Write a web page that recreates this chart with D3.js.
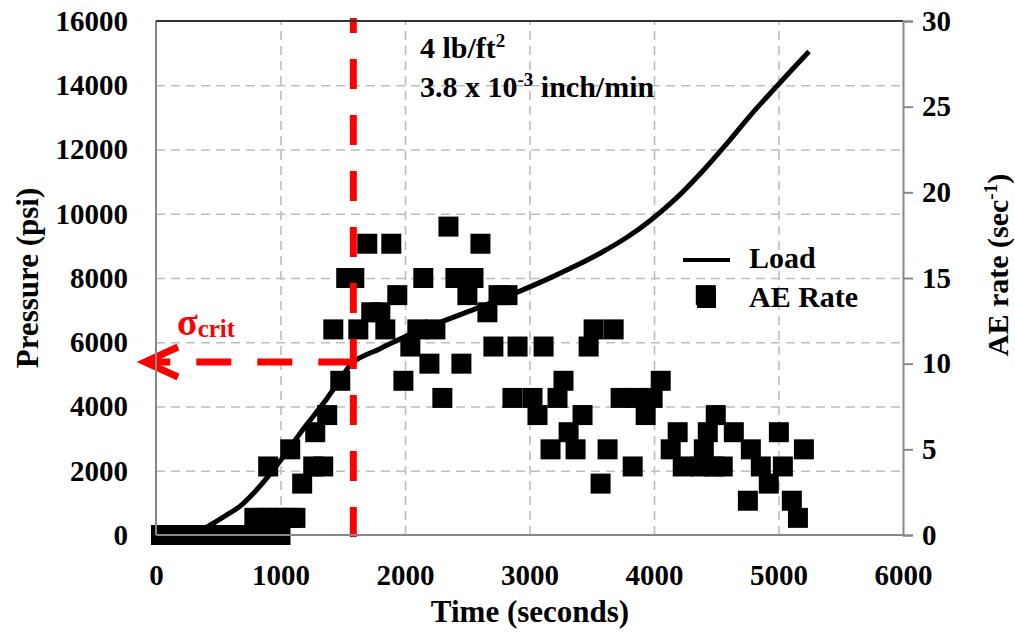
<!DOCTYPE html>
<html>
<head>
<meta charset="utf-8">
<script src="https://cdn.jsdelivr.net/npm/d3@7"></script>
<style>
  html, body { margin: 0; padding: 0; background: #fff; }
  svg text { font-family: "Liberation Serif", "Times New Roman", serif; font-weight: bold; }
</style>
</head>
<body>
<svg id="chart" width="1015" height="634"></svg>
<script>
// ---- data ----
const xTicks = [0, 1000, 2000, 3000, 4000, 5000, 6000];
const yLeftTicks = [0, 2000, 4000, 6000, 8000, 10000, 12000, 14000, 16000];
const yRightTicks = [0, 5, 10, 15, 20, 25, 30];

const loadTime = [0, 200, 330, 430, 540, 676, 800, 941, 1050, 1158, 1270, 1375, 1480, 1585, 1800, 1987, 2284, 2606, 2904, 3153, 3350, 3571, 3780, 3973, 4175, 4375, 4578, 4778, 5019, 5245];
const loadPsi  = [0, 10, 90, 300, 560, 900, 1370, 2020, 2580, 3170, 3730, 4260, 4840, 5385, 5800, 6150, 6620, 7100, 7560, 7980, 8340, 8780, 9260, 9800, 10470, 11260, 12150, 13080, 14110, 15050];

const aeTime = [40, 100, 160, 220, 280, 340, 400, 460, 520, 580, 640, 700, 760, 790, 820, 850, 880, 901, 910, 940, 970, 1000, 1030, 1078, 1090, 1120,
  1174, 1263, 1279, 1343, 1375, 1424, 1480, 1528, 1593, 1625, 1697, 1729, 1802, 1842, 1890, 1938, 1987,
  2043, 2099, 2147, 2196, 2244, 2300, 2349, 2405, 2453, 2501, 2550, 2606, 2662, 2710, 2751, 2823, 2863, 2904, 3024, 3064,
  3113, 3169, 3225, 3273, 3314, 3370, 3426, 3475, 3515, 3571, 3627, 3676, 3732, 3829, 3861, 3933, 3989, 4054,
  4134, 4190, 4231, 4375, 4400, 4416, 4432, 4480, 4496, 4552, 4641, 4754, 4778, 4858, 4922, 5003, 5035, 5107, 5156, 5204];
const aeRate = [0, 0, 0, 0, 0, 0, 0, 0, 0, 0, 0, 0, 0, 1, 0, 1, 0, 4, 1, 0, 1, 0, 1, 5, 1, 1,
  3, 4, 6, 4, 7, 12, 9, 15, 15, 12, 17, 13, 13, 12, 17, 14, 9,
  11, 12, 15, 10, 12, 8, 18, 15, 10, 14, 15, 17, 13, 11, 14, 14, 8, 11, 8, 7,
  11, 5, 8, 9, 6, 5, 7, 11, 12, 3, 5, 12, 8, 4, 8, 7, 8, 9,
  5, 6, 4, 4, 5, 14, 6, 4, 7, 4, 6, 2, 5, 4, 3, 6, 4, 2, 1, 5];

// ---- layout ----
const svg = d3.select("#chart");
const L = 156, R = 903, T = 21, B = 535;
const x = d3.scaleLinear().domain([0, 6000]).range([L, R]);
const yL = d3.scaleLinear().domain([0, 16000]).range([B, T]);
const yR = d3.scaleLinear().domain([0, 30]).range([B, T]);

// grid
const gridY = svg.append("g").attr("transform", `translate(${L},0)`)
  .call(d3.axisLeft(yL).tickValues(yLeftTicks.filter(v => v > 0 && v < 16000)).tickSize(-(R - L)).tickFormat(""));
gridY.select(".domain").remove();
gridY.selectAll("line").attr("stroke", "#bdbdbd").attr("stroke-width", 1.6).attr("stroke-dasharray", "9,6");
const gridX = svg.append("g").attr("transform", `translate(0,${B})`)
  .call(d3.axisBottom(x).tickValues(xTicks.filter(v => v > 0 && v < 6000)).tickSize(-(B - T)).tickFormat(""));
gridX.select(".domain").remove();
gridX.selectAll("line").attr("stroke", "#bdbdbd").attr("stroke-width", 1.6).attr("stroke-dasharray", "9,6");

// markers
svg.append("g").selectAll("rect").data(aeTime.map((t, i) => [t, aeRate[i]])).join("rect")
  .attr("x", d => x(d[0]) - 10).attr("y", d => yR(d[1]) - 10)
  .attr("width", 20).attr("height", 20).attr("fill", "#000");

// load curve
const line = d3.line().x(d => x(d[0])).y(d => yL(d[1])).curve(d3.curveCatmullRom.alpha(0.5));
svg.append("path").datum(loadTime.map((t, i) => [t, loadPsi[i]]))
  .attr("d", line).attr("fill", "none").attr("stroke", "#000").attr("stroke-width", 5)
  .attr("stroke-linejoin", "round");

// red critical lines
const tCrit = 1585, pCrit = 5385;
svg.append("line").attr("x1", x(tCrit)).attr("x2", x(tCrit)).attr("y1", B + 2).attr("y2", T - 3)
  .attr("stroke", "#ff0000").attr("stroke-width", 7).attr("stroke-dasharray", "30,26");
svg.append("line").attr("x1", x(tCrit)).attr("x2", L - 8).attr("y1", yL(pCrit)).attr("y2", yL(pCrit))
  .attr("stroke", "#ff0000").attr("stroke-width", 7).attr("stroke-dasharray", "35,26");
svg.append("polyline")
  .attr("points", `${L + 22},${yL(pCrit) - 15} ${L - 11},${yL(pCrit)} ${L + 22},${yL(pCrit) + 15}`)
  .attr("fill", "none").attr("stroke", "#ff0000").attr("stroke-width", 7).attr("stroke-linejoin", "miter");

// axes frame
svg.append("line").attr("x1", L).attr("x2", L).attr("y1", T).attr("y2", B).attr("stroke", "#888").attr("stroke-width", 2);
svg.append("line").attr("x1", L).attr("x2", R).attr("y1", B).attr("y2", B).attr("stroke", "#888").attr("stroke-width", 2);
svg.append("line").attr("x1", L).attr("x2", R).attr("y1", T).attr("y2", T).attr("stroke", "#333").attr("stroke-width", 2);

// left axis labels
const axL = svg.append("g").attr("transform", `translate(${L},0)`)
  .call(d3.axisLeft(yL).tickValues(yLeftTicks).tickSize(0).tickPadding(28).tickFormat(d3.format("d")));
axL.select(".domain").remove();
axL.selectAll("text").attr("font-size", 29).attr("font-family", "Liberation Serif").attr("font-weight", "bold").attr("fill", "#000");

// bottom axis labels
const axB = svg.append("g").attr("transform", `translate(0,${B})`)
  .call(d3.axisBottom(x).tickValues(xTicks).tickSize(0).tickPadding(29).tickFormat(d3.format("d")));
axB.select(".domain").remove();
axB.selectAll("text").attr("font-size", 29).attr("font-family", "Liberation Serif").attr("font-weight", "bold").attr("fill", "#000");

// right axis
const axR = svg.append("g").attr("transform", `translate(${R},0)`)
  .call(d3.axisRight(yR).tickValues(yRightTicks).tickSize(10).tickPadding(9));
axR.select(".domain").attr("stroke", "#888").attr("stroke-width", 2);
axR.selectAll("line").attr("stroke", "#888").attr("stroke-width", 2);
axR.selectAll("text").attr("font-size", 29).attr("font-family", "Liberation Serif").attr("font-weight", "bold").attr("fill", "#000");

// axis titles
svg.append("text").attr("x", 530).attr("y", 622).attr("text-anchor", "middle").attr("font-size", 31).text("Time (seconds)");
svg.append("text").attr("transform", "translate(38,278) rotate(-90)").attr("text-anchor", "middle").attr("font-size", 31).text("Pressure (psi)");
const rt = svg.append("text").attr("transform", "translate(1008,265) rotate(-90)").attr("text-anchor", "middle").attr("font-size", 30);
rt.append("tspan").text("AE rate (sec");
rt.append("tspan").attr("font-size", 19).attr("dy", -11).text("-1");
rt.append("tspan").attr("dy", 11).text(")");

// annotation
const a1 = svg.append("text").attr("x", 420).attr("y", 58).attr("font-size", 30);
a1.append("tspan").text("4 lb/ft");
a1.append("tspan").attr("font-size", 19).attr("dy", -11).text("2");
const a2 = svg.append("text").attr("x", 420).attr("y", 97).attr("font-size", 30);
a2.append("tspan").text("3.8 x 10");
a2.append("tspan").attr("font-size", 19).attr("dy", -11).text("-3");
a2.append("tspan").attr("dy", 11).text(" inch/min");

// sigma crit
const sc = svg.append("text").attr("x", 177).attr("y", 335).attr("fill", "#ff0000").attr("font-size", 38);
sc.append("tspan").text("σ");
sc.append("tspan").attr("font-size", 25).attr("dy", 2).text("crit");

// legend
svg.append("line").attr("x1", 683).attr("x2", 730).attr("y1", 260).attr("y2", 260).attr("stroke", "#000").attr("stroke-width", 4);
svg.append("text").attr("x", 749).attr("y", 268).attr("font-size", 30).text("Load");
svg.append("rect").attr("x", 697).attr("y", 289).attr("width", 19).attr("height", 19).attr("fill", "#000");
svg.append("text").attr("x", 749).attr("y", 307).attr("font-size", 30).text("AE Rate");
</script>
</body>
</html>
